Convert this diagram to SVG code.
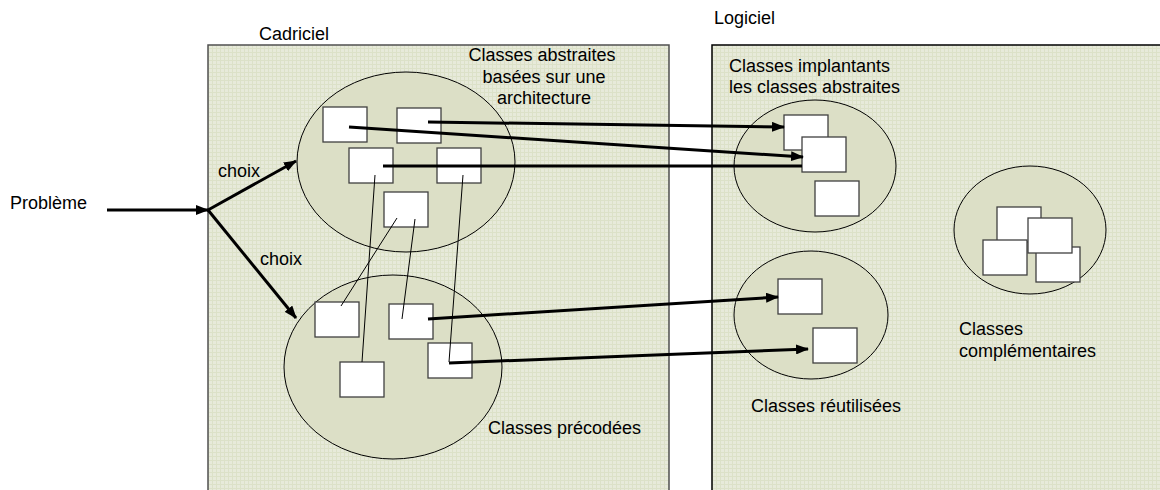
<svg xmlns="http://www.w3.org/2000/svg" width="1160" height="490" viewBox="0 0 1160 490">
<defs>
<pattern id="grid" width="4" height="4" patternUnits="userSpaceOnUse">
<rect width="4" height="4" fill="#e7eada"/>
<rect width="4" height="1" fill="#dce1c8"/>
<rect width="1" height="4" fill="#dce1c8"/>
</pattern>
<marker id="ah" viewBox="0 0 13 10" refX="12" refY="5" markerWidth="13" markerHeight="10" markerUnits="userSpaceOnUse" orient="auto">
<path d="M0,0 L13,5 L0,10 z" fill="#000"/>
</marker>
<style>
.t{font-family:"Liberation Sans",Arial,sans-serif;font-size:18px;fill:#000}
.box{fill:#fff;stroke:#404040;stroke-width:1.3}
.ell{fill:#dcdfc6;stroke:#000;stroke-width:1}
.thick{stroke:#000;stroke-width:3;fill:none}
.thin{stroke:#000;stroke-width:1;fill:none}
</style>
</defs>
<rect width="1160" height="490" fill="#fff"/>
<g id="cadriciel">
<rect x="208" y="45" width="461" height="460" fill="url(#grid)" stroke="#505050" stroke-width="1.5"/>
<text class="t" x="259" y="40">Cadriciel</text>
</g>
<g id="logiciel">
<rect x="712" y="45" width="460" height="460" fill="url(#grid)" stroke="#000" stroke-width="1.5"/>
<text class="t" x="714" y="24">Logiciel</text>
</g>
<g id="probleme"><text class="t" x="10" y="209">Problème</text></g>
<g id="abstraites">
<ellipse class="ell" cx="406" cy="162" rx="109" ry="90"/>
<text class="t" x="542" y="61" text-anchor="middle">Classes abstraites</text>
<text class="t" x="544" y="83" text-anchor="middle">basées sur une</text>
<text class="t" x="544" y="104" text-anchor="middle">architecture</text>
<rect id="a1" class="box" x="323" y="107" width="44" height="35"/>
<rect id="a2" class="box" x="397" y="108" width="44" height="35"/>
<rect id="a3" class="box" x="349" y="148" width="44" height="35"/>
<rect id="a4" class="box" x="437" y="148" width="44" height="35"/>
<rect id="a5" class="box" x="384" y="192" width="44" height="35"/>
</g>
<g id="precodees">
<ellipse class="ell" cx="393" cy="367" rx="109" ry="92"/>
<rect id="p1" class="box" x="315" y="302" width="44" height="35"/>
<rect id="p2" class="box" x="389" y="304" width="44" height="35"/>
<rect id="p3" class="box" x="428" y="343" width="44" height="35"/>
<rect id="p4" class="box" x="340" y="362" width="44" height="35"/>
<text class="t" x="488" y="434">Classes précodées</text>
</g>
<g id="implantants">
<text class="t" x="729" y="72">Classes implantants</text>
<text class="t" x="729" y="93">les classes abstraites</text>
<ellipse class="ell" cx="815" cy="166" rx="81" ry="66"/>
<rect id="i1" class="box" x="784" y="115" width="44" height="35"/>
<rect id="i2" class="box" x="802" y="137" width="44" height="35"/>
<rect id="i3" class="box" x="815" y="181" width="44" height="35"/>
</g>
<g id="reutilisees">
<ellipse class="ell" cx="811" cy="315" rx="77" ry="64"/>
<rect id="r1" class="box" x="778" y="279" width="44" height="35"/>
<rect id="r2" class="box" x="813" y="328" width="44" height="35"/>
<text class="t" x="751" y="412">Classes réutilisées</text>
</g>
<g id="complementaires">
<ellipse class="ell" cx="1030" cy="230" rx="76" ry="64"/>
<rect id="c1" class="box" x="997" y="207" width="44" height="35"/>
<rect id="c3" class="box" x="983" y="240" width="44" height="35"/>
<rect id="c4" class="box" x="1036" y="247" width="44" height="35"/>
<rect id="c2" class="box" x="1028" y="218" width="44" height="35"/>
<text class="t" x="959" y="335">Classes</text>
<text class="t" x="959" y="357">complémentaires</text>
</g>
<g id="connectors">
<line class="thick" x1="107" y1="210" x2="208" y2="210" marker-end="url(#ah)"/>
<line class="thick" x1="208" y1="210" x2="296" y2="161" marker-end="url(#ah)"/>
<line class="thick" x1="208" y1="210" x2="296" y2="318" marker-end="url(#ah)"/>
<line class="thick" x1="349" y1="127" x2="803" y2="157" marker-end="url(#ah)"/>
<line class="thick" x1="428" y1="122" x2="784" y2="127" marker-end="url(#ah)"/>
<line class="thick" x1="383" y1="166" x2="802" y2="166"/>
<line class="thick" x1="428" y1="319" x2="778" y2="297" marker-end="url(#ah)"/>
<line class="thick" x1="449" y1="363" x2="808" y2="349" marker-end="url(#ah)"/>
<line class="thin" x1="375" y1="175" x2="362" y2="362"/>
<line class="thin" x1="397" y1="218" x2="341" y2="306"/>
<line class="thin" x1="415" y1="219" x2="402" y2="319"/>
<line class="thin" x1="463" y1="175" x2="449" y2="362"/>
</g>
<g id="labels">
<text class="t" x="218" y="177">choix</text>
<text class="t" x="260" y="265">choix</text>
</g>
</svg>
